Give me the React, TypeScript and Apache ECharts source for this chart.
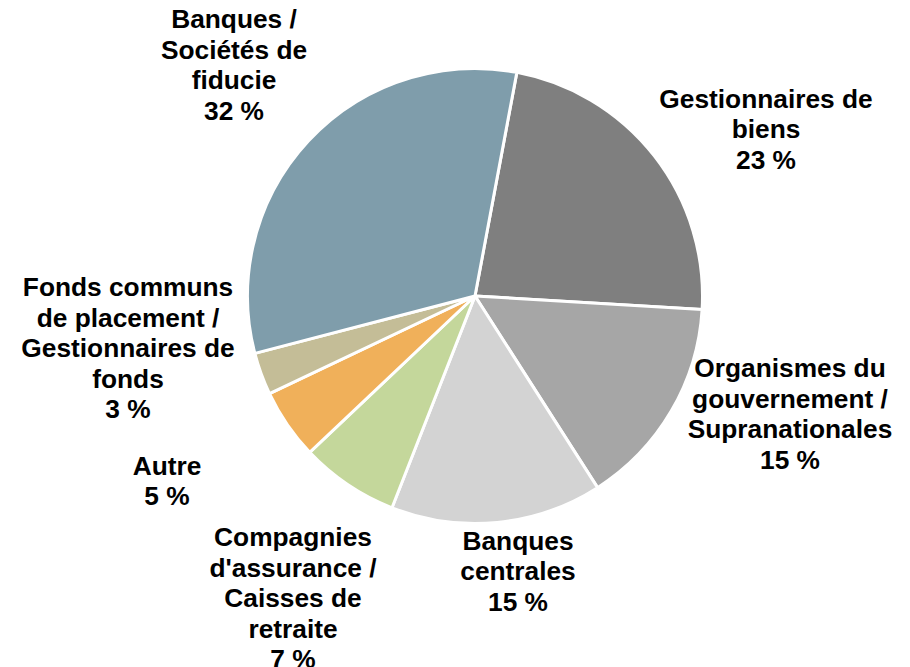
import React, { useEffect, useRef } from "react";
import * as echarts from "echarts";

const categories = [
  "Gestionnaires de\nbiens",
  "Organismes du\ngouvernement /\nSupranationales",
  "Banques\ncentrales",
  "Compagnies\nd'assurance /\nCaisses de\nretraite",
  "Autre",
  "Fonds communs\nde placement /\nGestionnaires de\nfonds",
  "Banques /\nSociétés de\nfiducie",
];
const values = [23, 15, 15, 7, 5, 3, 32];
const colors = ["#7F7F7F", "#A6A6A6", "#D3D3D3", "#C4D79B", "#F0B05A", "#C4BD97", "#7F9DAB"];
const labelCenters: [number, number][] = [
  [766, 129],
  [790, 414],
  [518, 571],
  [293, 598],
  [167, 481],
  [128, 348],
  [234, 65],
];

export default function App() {
  const ref = useRef<HTMLDivElement>(null);
  useEffect(() => {
    if (!ref.current) return;
    const chart = echarts.init(ref.current, undefined, { renderer: "svg" });
    chart.setOption({
      animation: false,
      backgroundColor: "#ffffff",
      series: [
        {
          type: "pie",
          center: [475, 296],
          radius: [0, 227.5],
          startAngle: 79.4,
          clockwise: true,
          avoidLabelOverlap: false,
          itemStyle: { borderColor: "#ffffff", borderWidth: 3 },
          label: {
            show: true,
            position: "outside",
            formatter: (p: any) => `${p.name}\n${p.value} %`,
            fontFamily: "Liberation Sans, Arial, sans-serif",
            fontWeight: "bold",
            fontSize: 26.3,
            lineHeight: 30.5,
            color: "#000000",
            align: "center",
          },
          labelLine: { show: false },
          labelLayout: (params: any) => {
            const c = labelCenters[params.dataIndex];
            return { x: c[0], y: c[1], align: "center", verticalAlign: "middle" };
          },
          data: categories.map((name, i) => ({
            name,
            value: values[i],
            itemStyle: { color: colors[i] },
          })),
        },
      ],
    });
    return () => chart.dispose();
  }, []);
  return (
    <div
      ref={ref}
      style={{ position: "fixed", left: 0, top: 0, width: 910, height: 667, background: "#fff" }}
    />
  );
}
